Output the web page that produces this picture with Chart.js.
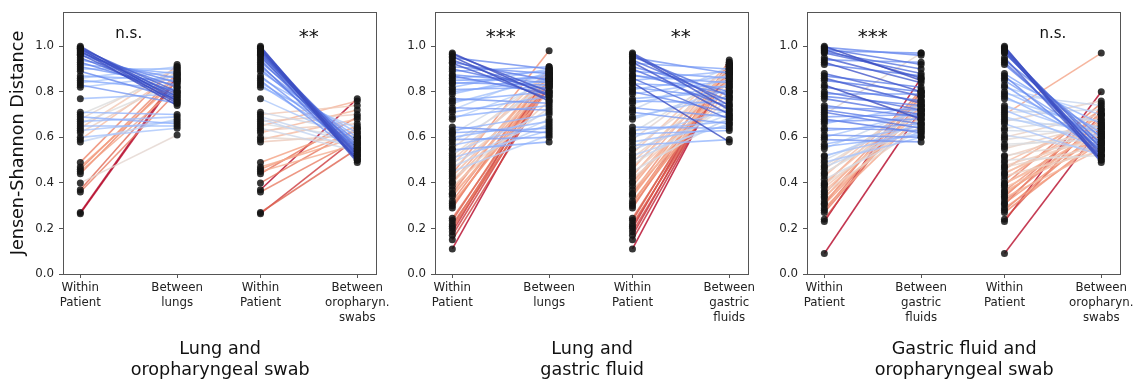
<!DOCTYPE html>
<html>
<head>
<meta charset="utf-8">
<script src="https://cdn.jsdelivr.net/npm/chart.js@4.4.0/dist/chart.umd.min.js"></script>
<style>
  html, body { margin: 0; padding: 0; background: #fff; overflow: hidden; }
  body { width: 1133px; height: 381px; position: relative; }
  canvas { position: absolute; top: 0; }
</style>
</head>
<body>
<canvas id="panel1" width="398" height="381" style="left:0px"></canvas>
<canvas id="panel2" width="398" height="381" style="left:372px"></canvas>
<canvas id="panel3" width="398" height="381" style="left:744px"></canvas>
<script>
// x positions of the four columns in every panel
const columnPos = [0, 1, 1.861, 2.861];
const yTicks = [0, 0.2, 0.4, 0.6, 0.8, 1.0];

// --- panel 1: lung and oropharyngeal swab ---
const within1 = [1.00, 0.995, 0.99, 0.99, 0.985, 0.98, 0.975, 0.97, 0.965, 0.96, 0.95, 0.94, 0.93, 0.92, 0.91, 0.90,
  0.89, 0.87, 0.86, 0.85, 0.84, 0.83, 0.82, 0.77, 0.71, 0.70, 0.69, 0.68, 0.67, 0.66, 0.65, 0.64, 0.63, 0.62,
  0.60, 0.59, 0.58, 0.49, 0.47, 0.46, 0.45, 0.44, 0.40, 0.37, 0.36, 0.27, 0.265];
const lungs1 = [0.76, 0.78, 0.75, 0.80, 0.77, 0.74, 0.79, 0.82, 0.76, 0.84, 0.78, 0.86, 0.80, 0.88, 0.83, 0.90,
  0.77, 0.85, 0.91, 0.81, 0.89, 0.75, 0.87, 0.79, 0.70, 0.88, 0.66, 0.90, 0.69, 0.84, 0.65, 0.91, 0.67, 0.86,
  0.64, 0.89, 0.68, 0.92, 0.85, 0.88, 0.82, 0.87, 0.61, 0.85, 0.80, 0.87, 0.86];
const oro1 = [0.50, 0.52, 0.49, 0.51, 0.53, 0.50, 0.55, 0.52, 0.54, 0.50, 0.56, 0.53, 0.58, 0.51, 0.57, 0.55,
  0.60, 0.54, 0.62, 0.52, 0.59, 0.56, 0.64, 0.58, 0.62, 0.74, 0.57, 0.55, 0.70, 0.60, 0.76, 0.54, 0.66, 0.72,
  0.58, 0.68, 0.61, 0.65, 0.60, 0.63, 0.57, 0.69, 0.64, 0.77, 0.59, 0.55, 0.60];

// --- panel 2: lung and gastric fluid ---
const within2 = [0.97, 0.965, 0.955, 0.95, 0.94, 0.93, 0.925, 0.91, 0.90, 0.89, 0.875, 0.87, 0.86, 0.85, 0.84, 0.835,
  0.82, 0.81, 0.80, 0.79, 0.77, 0.76, 0.75, 0.73, 0.72, 0.71, 0.69, 0.68,
  0.645, 0.63, 0.62, 0.615, 0.60, 0.59, 0.58, 0.565, 0.55, 0.545, 0.53, 0.52, 0.51, 0.50, 0.49, 0.48, 0.47, 0.46,
  0.45, 0.44, 0.43, 0.42, 0.405, 0.40, 0.385, 0.37, 0.355, 0.35, 0.34, 0.32, 0.31, 0.30, 0.29,
  0.245, 0.235, 0.22, 0.21, 0.20, 0.185, 0.17, 0.15, 0.11];
const lungs2 = [0.78, 0.80, 0.76, 0.90, 0.79, 0.85, 0.77, 0.88, 0.81, 0.91, 0.84, 0.79, 0.89, 0.86, 0.83, 0.87,
  0.90, 0.82, 0.85, 0.88, 0.75, 0.80, 0.86, 0.72, 0.89, 0.78, 0.74, 0.84,
  0.62, 0.70, 0.64, 0.86, 0.67, 0.60, 0.83, 0.65, 0.88, 0.58, 0.71, 0.85, 0.63, 0.87, 0.68, 0.90, 0.66, 0.82,
  0.61, 0.98, 0.86, 0.73, 0.89, 0.84, 0.76, 0.87, 0.91, 0.80, 0.85, 0.88, 0.83, 0.86, 0.90,
  0.85, 0.88, 0.82, 0.87, 0.84, 0.89, 0.86, 0.83, 0.87];
const gastric2 = [0.74, 0.72, 0.78, 0.88, 0.76, 0.70, 0.90, 0.80, 0.73, 0.86, 0.79, 0.84, 0.68, 0.89, 0.58, 0.82,
  0.77, 0.87, 0.71, 0.85, 0.80, 0.75, 0.83, 0.69, 0.91, 0.66, 0.78, 0.81,
  0.64, 0.67, 0.88, 0.63, 0.72, 0.90, 0.65, 0.59, 0.86, 0.70, 0.92, 0.66, 0.84, 0.68, 0.89, 0.74, 0.87, 0.93,
  0.69, 0.82, 0.91, 0.77, 0.88, 0.85, 0.90, 0.80, 0.92, 0.86, 0.89, 0.83, 0.91, 0.87, 0.92,
  0.90, 0.93, 0.88, 0.91, 0.94, 0.89, 0.92, 0.90, 0.91];

// --- panel 3: gastric fluid and oropharyngeal swab ---
const within3 = [1.00, 0.995, 0.99, 0.985, 0.98, 0.975, 0.97, 0.95, 0.94, 0.93, 0.92, 0.88, 0.87, 0.86, 0.85, 0.83,
  0.82, 0.80, 0.79, 0.78, 0.77,
  0.74, 0.73, 0.72, 0.71, 0.70, 0.69, 0.68, 0.67, 0.66, 0.64, 0.63, 0.61, 0.60, 0.59, 0.57, 0.56, 0.55,
  0.52, 0.515, 0.50, 0.49, 0.475, 0.47, 0.46, 0.445, 0.44, 0.43, 0.415, 0.40, 0.395, 0.39, 0.38, 0.365, 0.36,
  0.35, 0.34, 0.335, 0.32, 0.31, 0.305, 0.29, 0.28, 0.27,
  0.24, 0.23, 0.09];
const gastric3 = [0.85, 0.96, 0.92, 0.86, 0.97, 0.90, 0.88, 0.84, 0.93, 0.80, 0.87, 0.78, 0.82, 0.75, 0.80, 0.68,
  0.76, 0.72, 0.79, 0.74, 0.70,
  0.69, 0.72, 0.66, 0.64, 0.97, 0.70, 0.62, 0.68, 0.74, 0.63, 0.66, 0.60, 0.71, 0.58, 0.65, 0.61, 0.73,
  0.62, 0.66, 0.70, 0.60, 0.74, 0.64, 0.76, 0.68, 0.72, 0.78, 0.63, 0.75, 0.67, 0.80, 0.71, 0.73, 0.65,
  0.79, 0.69, 0.77, 0.72, 0.81, 0.74, 0.70, 0.78, 0.76,
  0.80, 0.86, 0.72];
const oro3 = [0.50, 0.52, 0.49, 0.55, 0.51, 0.53, 0.57, 0.50, 0.60, 0.54, 0.56, 0.62, 0.52, 0.66, 0.58, 0.55,
  0.70, 0.61, 0.74, 0.57, 0.64,
  0.60, 0.67, 0.55, 0.72, 0.97, 0.58, 0.63, 0.76, 0.52, 0.68, 0.62, 0.54, 0.70, 0.65, 0.59, 0.61, 0.66,
  0.58, 0.64, 0.52, 0.69, 0.60, 0.56, 0.72, 0.62, 0.66, 0.54, 0.70, 0.59, 0.63, 0.75, 0.57, 0.68, 0.61,
  0.65, 0.71, 0.55, 0.67, 0.62, 0.73, 0.58, 0.64, 0.60,
  0.70, 0.80, 0.65];

// coolwarm colormap stops
const coolwarmStops = [
  [59, 76, 192], [98, 130, 234], [141, 176, 254], [184, 208, 249], [221, 221, 221],
  [245, 196, 173], [244, 154, 123], [222, 96, 77], [180, 4, 38]
];

function coolwarm(t, alpha) {
  t = Math.min(1, Math.max(0, t)) * (coolwarmStops.length - 1);
  const i = Math.min(Math.floor(t), coolwarmStops.length - 2);
  const f = t - i;
  const a = coolwarmStops[i], b = coolwarmStops[i + 1];
  const c = a.map((v, k) => Math.round(v + (b[k] - v) * f));
  return `rgba(${c[0]},${c[1]},${c[2]},${alpha})`;
}

// colour each line by its change, scaled over the pair
function pairColors(within, between) {
  const diff = within.map((w, i) => between[i] - w);
  const lo = Math.min(...diff), hi = Math.max(...diff);
  return diff.map(d => coolwarm((d - lo) / (hi - lo), 0.8));
}

const boxPlugin = {
  id: 'box',
  afterDraw(chart) {
    const {ctx, chartArea: a} = chart;
    ctx.save();
    ctx.strokeStyle = '#555';
    ctx.lineWidth = 1;
    ctx.strokeRect(Math.round(a.left) + 0.5, Math.round(a.top) + 0.5,
      Math.round(a.right - a.left) - 1, Math.round(a.bottom - a.top));
    ctx.restore();
  }
};

const marksPlugin = {
  id: 'marks',
  afterDraw(chart, args, opts) {
    const {ctx, scales: {x, y}} = chart;
    ctx.save();
    ctx.fillStyle = '#111';
    ctx.textAlign = 'center';
    ctx.textBaseline = 'alphabetic';
    opts.items.forEach(it => {
      ctx.font = `${it.size}px "DejaVu Sans"`;
      const m = ctx.measureText(it.text);
      const cy = y.getPixelForValue(1.058);
      ctx.fillText(it.text, x.getPixelForValue(it.x),
        cy + (m.actualBoundingBoxAscent - m.actualBoundingBoxDescent) / 2);
    });
    ctx.restore();
  }
};

Chart.defaults.font.family = '"DejaVu Sans", sans-serif';
Chart.defaults.color = '#222';

function makePanel(id, within, betA, betB, labels, marks, title, yTitle) {
  const datasets = [];
  const colA = pairColors(within, betA);
  const colB = pairColors(within, betB);
  const line = (x0, y0, x1, y1, color) => ({
    data: [{x: x0, y: y0}, {x: x1, y: y1}],
    borderColor: color, borderWidth: 1.6, pointRadius: 0, tension: 0, fill: false
  });
  within.forEach((w, i) => datasets.push(line(columnPos[0], w, columnPos[1], betA[i], colA[i])));
  within.forEach((w, i) => datasets.push(line(columnPos[2], w, columnPos[3], betB[i], colB[i])));
  const dots = (x, arr) => ({
    type: 'scatter', order: -1,
    data: arr.map(v => ({x: x, y: v})),
    pointRadius: 3.5, backgroundColor: 'rgba(20,20,20,0.85)', borderWidth: 0
  });
  datasets.push(dots(columnPos[0], within), dots(columnPos[1], betA),
    dots(columnPos[2], within), dots(columnPos[3], betB));

  new Chart(document.getElementById(id), {
    type: 'line',
    data: {datasets},
    plugins: [boxPlugin, marksPlugin],
    options: {
      responsive: false,
      animation: false,
      events: [],
      layout: {padding: {top: 11.7, right: 20.7, bottom: 0, left: 0}},
      plugins: {
        legend: {display: false},
        tooltip: {enabled: false},
        marks: {items: marks}
      },
      scales: {
        x: {
          type: 'linear', min: -0.179, max: 3.068,
          afterBuildTicks: s => { s.ticks = columnPos.map(v => ({value: v})); },
          afterFit: s => { s.height = 107; },
          ticks: {
            callback: (v, i) => labels[i],
            font: {size: 11.8, lineHeight: 1.25}, padding: 3,
            maxRotation: 0, autoSkip: false, color: '#222'
          },
          grid: {display: true, drawOnChartArea: false, tickLength: 4, color: '#555'},
          border: {display: false},
          title: {display: true, text: title, font: {size: 17.6, lineHeight: 1.2}, color: '#111',
            padding: {top: 0, bottom: 0}}
        },
        y: {
          min: 0, max: 1.15,
          afterBuildTicks: s => { s.ticks = yTicks.map(v => ({value: v})); },
          afterFit: s => { s.width = 63; },
          ticks: {callback: v => v.toFixed(1), font: {size: 11.8}, padding: 5, color: '#222'},
          grid: {display: true, drawOnChartArea: false, tickLength: 4, color: '#555'},
          border: {display: false},
          title: {display: !!yTitle, text: yTitle || '', font: {size: 17.6}, color: '#111',
            padding: {top: 7.5, bottom: 0}}
        }
      }
    }
  });
}

makePanel('panel1', within1, lungs1, oro1,
  [['Within', 'Patient'], ['Between', 'lungs'], ['Within', 'Patient'], ['Between', 'oropharyn.', 'swabs']],
  [{x: 0.5, text: 'n.s.', size: 15}, {x: 2.361, text: '**', size: 20}],
  ['Lung and', 'oropharyngeal swab'], 'Jensen-Shannon Distance');

makePanel('panel2', within2, lungs2, gastric2,
  [['Within', 'Patient'], ['Between', 'lungs'], ['Within', 'Patient'], ['Between', 'gastric', 'fluids']],
  [{x: 0.5, text: '***', size: 20}, {x: 2.361, text: '**', size: 20}],
  ['Lung and', 'gastric fluid'], null);

makePanel('panel3', within3, gastric3, oro3,
  [['Within', 'Patient'], ['Between', 'gastric', 'fluids'], ['Within', 'Patient'], ['Between', 'oropharyn.', 'swabs']],
  [{x: 0.5, text: '***', size: 20}, {x: 2.361, text: 'n.s.', size: 15}],
  ['Gastric fluid and', 'oropharyngeal swab'], null);
</script>
</body>
</html>
